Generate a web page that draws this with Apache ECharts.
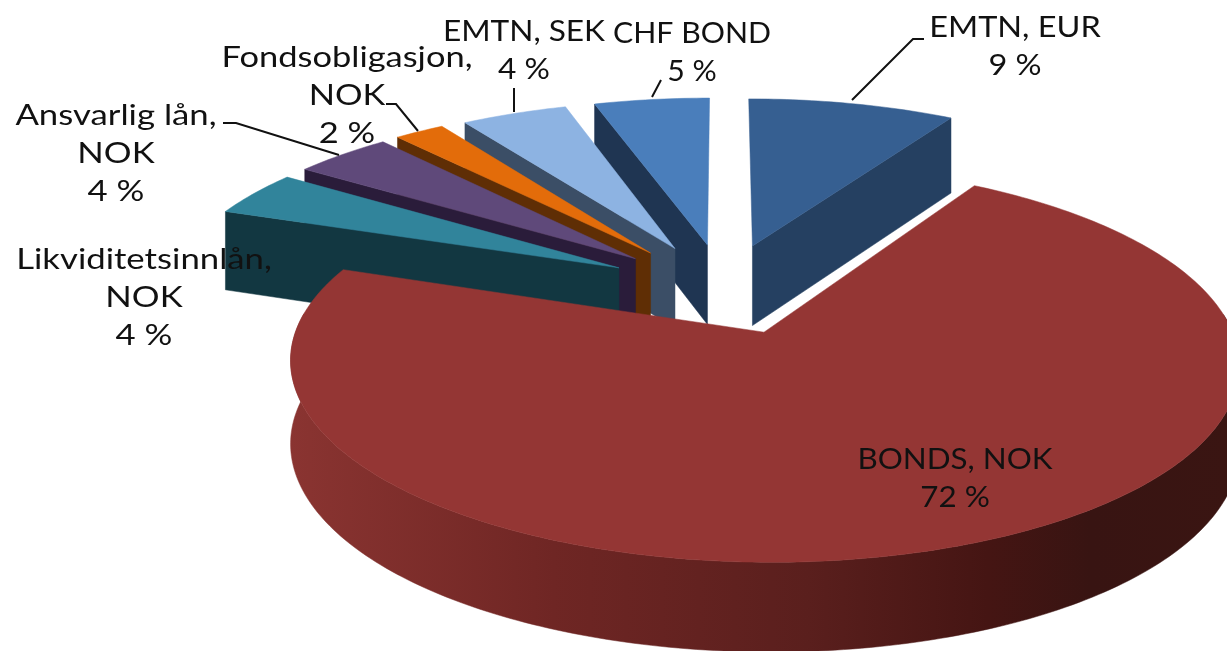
<!DOCTYPE html>
<html>
<head>
<meta charset="utf-8">
<title>Pie</title>
<style>
html, body { margin: 0; padding: 0; background: #fff; }
#main { width: 1227px; height: 651px; }
</style>
<script src="https://cdn.jsdelivr.net/npm/echarts@6/dist/echarts.min.js"></script>
</head>
<body>
<div id="main"></div>
<script>
// clockwise from 12 o'clock, shares
var categories = ['EMTN, EUR', 'BONDS, NOK', 'Likviditetsinnlån,\nNOK', 'Ansvarlig lån,\nNOK', 'Fondsobligasjon,\nNOK', 'EMTN, SEK', 'CHF BOND'];
var values = [8.7, 71.8, 4, 4.1, 2.1, 4.45, 4.85];
var topColors = ['#365f91', '#943634', '#31849b', '#5f497a', '#e36c0a', '#8db3e2', '#4a7ebb'];
var wallColors = ['#254061', '#6d2422', '#123741', '#2a1c3a', '#5f2e05', '#3b4e66', '#1f3552'];
var drawOrder = [0, 6, 5, 4, 3, 2, 1];

// label centres, stretch and leader lines, in page pixels
var labelPos = [[1015, 47], [955, 479], [144, 298], [116, 154], [347, 96], [524, 51], [692, 53]];
var labelStretch = [1.16, 1.12, 1.24, 1.24, 1.23, 1.13, 1.08];
var leaders = [
    [[852, 100], [913, 39], [924, 39]],
    null,
    null,
    [[339, 155], [236, 123], [223, 123]],
    [[418, 131], [396, 104], [386, 104]],
    [[514, 112], [514, 88]],
    [[652, 97], [661, 80]]
];

// pie geometry: a tilted disc seen in perspective
var cx = 720, cy = 288, radius = 452, tilt = 0.4, persp = 0.15, explode = 113, depth = 81;
var nudgeX = [3, 5, -2, -2, -3, 2, 4];

function project(u, v, h) {
    var p = 1 / (1 + persp * v / radius);
    return [cx + u * p, cy - v * tilt * p + h * Math.sqrt(p)];
}

function renderSlice(params, api) {
    var i = api.value(0);
    var a0 = api.value(2) / 100 * Math.PI * 2;
    var a1 = a0 + api.value(1) / 100 * Math.PI * 2;
    var mid = (a0 + a1) / 2;
    var u0 = explode * Math.sin(mid), v0 = explode * Math.cos(mid);
    var steps = Math.max(4, Math.round((a1 - a0) * 60));
    var top = [project(u0, v0, 0)], children = [];
    var order = drawOrder.indexOf(i) * 10;
    var k, a;

    function face(points, fill, z) {
        children.push({ type: 'polygon', x: nudgeX[i], shape: { points: points }, z2: order + z, style: { fill: fill, stroke: fill, lineWidth: 0.5 } });
    }
    function rim(angle, h) {
        return project(u0 + radius * Math.sin(angle), v0 + radius * Math.cos(angle), h);
    }

    // straight cut faces, only those turned to the viewer
    if (Math.sin(a0) < 0) {
        face([top[0], rim(a0, 0), rim(a0, depth), project(u0, v0, depth)], wallColors[i], 1);
    }
    if (Math.sin(a1) > 0) {
        face([top[0], rim(a1, 0), rim(a1, depth), project(u0, v0, depth)], wallColors[i], 1);
    }

    // outer wall on the near side
    var upper = [], lower = [];
    for (k = 0; k <= steps; k++) {
        a = a0 + (a1 - a0) * k / steps;
        if (Math.cos(a) < 0.1) {
            upper.push(rim(a, 0));
            lower.unshift(rim(a, depth));
        }
        top.push(rim(a, 0));
    }
    if (upper.length > 1) {
        face(upper.concat(lower), {
            type: 'linear', x: 285, y: 0, x2: 1227, y2: 0, global: true,
            colorStops: [
                { offset: 0, color: '#8a3431' },
                { offset: 0.28, color: '#6f2624' },
                { offset: 0.55, color: '#5a1f1d' },
                { offset: 0.74, color: '#451513' },
                { offset: 0.85, color: '#381412' },
                { offset: 1, color: '#3a1512' }
            ]
        }, 2);
    }
    face(top, topColors[i], 3);
    return { type: 'group', children: children };
}

function renderLabels(params, api) {
    var i = api.value(0);
    var children = [{
        type: 'text', z2: 1000,
        x: labelPos[i][0], y: labelPos[i][1], scaleX: labelStretch[i],
        style: {
            text: categories[i] + '\n' + Math.round(values[i]) + ' %',
            x: 0, y: 0,
            align: 'center', verticalAlign: 'middle', lineHeight: 38,
            font: '28px Lato', fill: '#111'
        }
    }];
    if (leaders[i]) {
        children.push({
            type: 'polyline', z2: 1000,
            shape: { points: leaders[i] },
            style: { fill: null, stroke: '#111', lineWidth: 2 }
        });
    }
    return { type: 'group', children: children };
}

var sum = 0;
var sliceData = values.map(function (val, i) {
    var row = [i, val, sum];
    sum += val;
    return row;
});

var chart = echarts.init(document.getElementById('main'), null, { renderer: 'canvas' });
chart.setOption({
    backgroundColor: '#fff',
    animation: false,
    series: [
        { type: 'custom', coordinateSystem: 'none', silent: true, renderItem: renderSlice, data: sliceData, z: 1 },
        { type: 'custom', coordinateSystem: 'none', silent: true, renderItem: renderLabels, data: sliceData, z: 2 }
    ]
});
</script>
</body>
</html>
